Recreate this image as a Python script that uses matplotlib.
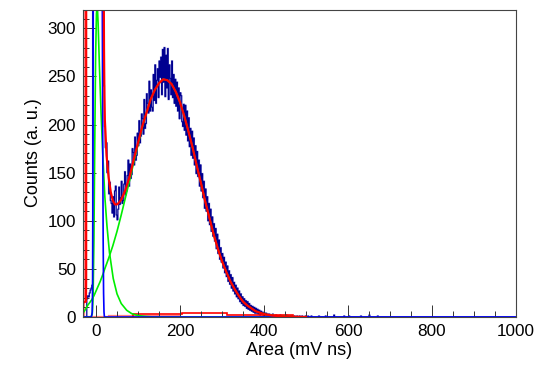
import numpy as np
import matplotlib
matplotlib.use('Agg')
import matplotlib.pyplot as plt
from matplotlib.ticker import MultipleLocator

plt.rcParams['font.family'] = ['Liberation Sans', 'DejaVu Sans']

# measured spectrum, 2 mV ns bins starting at -32
bin_start = -32
bin_width = 2
hist_counts = [
    # -31 .. 19
    0, 0, 0, 0, 0, 19, 22, 21, 25, 28, 30, 33, 900, 2500, 4000, 5000,
    5200, 5000, 4200, 3300, 2400, 1500, 900, 500, 320, 240,
    # 21 .. 99
    198, 176, 181, 150, 162, 128, 140, 121, 118, 108, 125, 104, 131, 136, 106, 101,
    112, 135, 117, 124, 141, 118, 121, 138, 151, 127, 131, 147, 163, 136, 159, 144,
    148, 175, 171, 158, 187, 163, 168, 191,
    # 101 .. 179
    178, 204, 181, 188, 211, 206, 190, 226, 196, 201, 232, 222, 212, 245, 214, 236,
    218, 214, 252, 225, 262, 222, 246, 258, 228, 266, 249, 270, 231, 278, 244, 280,
    229, 272, 238, 279, 226, 262, 248, 231,
    # 181 .. 259
    266, 228, 252, 222, 247, 219, 244, 214, 238, 206, 233, 230, 203, 198, 221, 194,
    220, 189, 214, 183, 207, 177, 196, 168, 193, 165, 186, 158, 178, 149, 172, 146,
    163, 136, 158, 131, 149, 124, 141, 113,
    # 261 .. 339
    133, 110, 125, 100, 118, 96, 112, 89, 104, 84, 97, 79, 92, 71, 86, 66,
    80, 60, 72, 57, 66, 51, 62, 46, 57, 42, 53, 37, 48, 34, 44, 30,
    41, 27, 36, 24, 33, 21, 30, 19,
    # 341 .. 419
    27, 16, 24, 14, 21, 12, 19, 11, 17, 9, 16, 8, 14, 7, 12, 6,
    11, 5, 10, 4, 9, 4, 8, 3, 7, 2, 6, 3, 5, 1, 4, 2,
    4, 1, 3, 1, 3, 0, 2, 1,
    # 421 .. 519
    3, 0, 1, 0, 2, 0, 1, 0, 0, 2, 0, 1, 0, 1, 0, 0,
    2, 0, 1, 0, 0, 1, 0, 1, 0, 0, 1, 0, 0, 1, 0, 0,
    1, 0, 0, 1, 0, 0, 0, 1, 0, 0, 1, 0, 0, 0, 1, 0,
    0, 0,
]
tail_x = [530, 546, 566, 590, 602, 630, 650, 670]
tail_n = [1, 1, 2, 1, 1, 1, 2, 1]

# fit components
sig_x = [-31, -25, -20, -10, -5, 0, 10, 17, 20, 30, 40, 50, 60, 70, 80, 90, 100, 110,
         120, 130, 140, 150, 160, 170, 180, 190, 200, 210, 220, 230, 240, 250, 260,
         270, 280, 290, 300, 310, 320, 330, 340, 350, 360, 370, 380, 390, 400, 420,
         450, 500]
sig_y = [4, 8, 12, 18, 22, 27, 37, 45, 49, 61, 74, 89, 106, 124, 142, 161, 179, 197,
         212, 226, 236, 243, 247, 246, 242, 234, 223, 209, 193, 176, 157, 139, 120,
         103, 86, 71, 58, 47, 37, 29, 22, 16, 12, 9, 6, 4.5, 3, 1.5, 0.4, 0]

exp_x = [-31, -12, -9, -7, -5, -3, -1, 1, 3, 5, 8, 12, 16, 21, 26, 32, 41, 50, 60, 73,
         85, 100, 120, 140, 500]
exp_y = [0, 0, 3, 20, 80, 180, 270, 315, 325, 305, 262, 212, 170, 125, 95, 67, 40, 24,
         14, 7, 3.5, 1.5, 0.5, 0, 0]

ped_x = [-31, -11, -9, -8, -7, -6, 14, 15, 16, 17, 18, 19, 20, 1000]
ped_y = [0, 0, 5, 40, 200, 500, 500, 320, 180, 80, 25, 5, 0, 0]

fit_x = [-31, -24, -23.5, -23, 17.5, 18, 18.5, 19, 20, 21, 25, 30, 35, 40, 45, 50, 55,
         60, 70, 80, 90, 100, 110, 120, 130, 140, 150, 160, 170, 180, 190, 200, 210,
         220, 230, 240, 250, 260, 270, 280, 290, 300, 310, 320, 330, 340, 350, 360,
         370, 380, 390, 400, 420, 450, 480, 500]
fit_y = [15, 16, 40, 2000, 2000, 600, 330, 280, 230, 205, 168, 145, 130, 121, 117, 117,
         119, 122, 132, 146, 164, 181, 198, 212, 226, 236, 243, 247, 246, 242, 234, 223,
         209, 193, 176, 157, 139, 120, 103, 86, 71, 58, 47, 37, 29, 22, 16, 12, 9, 6,
         4.5, 3, 1.5, 0.4, 0.2, 0]

# small background histograms along the bottom
bkg_edges = [88, 204, 311, 470]
bkg_counts = [2.8, 4.2, 2.5]
pink_edges = [-31, -29, 30, 200]
pink_counts = [2000, 0, 1.5]

edges_all = bin_start + bin_width * np.arange(int((1004 - bin_start) / bin_width) + 1)
counts_all = np.zeros(len(edges_all) - 1)
counts_all[:len(hist_counts)] = hist_counts
for x, n in zip(tail_x, tail_n):
    counts_all[int((x - bin_start) // bin_width)] = n

fig = plt.figure(figsize=(5.45, 3.70), dpi=100)
ax = fig.add_axes([83 / 545, 53 / 370, 433 / 545, 307 / 370])

ax.stairs(pink_counts, pink_edges, color='#ff8080', lw=1.6)
ax.stairs(counts_all, edges_all, color='#9090dd', lw=1.1)
ax.stairs(counts_all, edges_all, color='#000090', lw=0.7)
ax.plot(exp_x, exp_y, color='#00ee00', lw=1.2)
ax.plot(sig_x, sig_y, color='#00ee00', lw=1.2)
ax.plot(ped_x, ped_y, color='#0000ff', lw=1.2)
ax.stairs(bkg_counts, bkg_edges, color='#ff0000', lw=1.2)
ax.plot(fit_x, fit_y, color='#ff0000', lw=1.6)

ax.set_xlim(-31, 1000)
ax.set_ylim(0, 319)
ax.xaxis.set_major_locator(MultipleLocator(200))
ax.xaxis.set_minor_locator(MultipleLocator(50))
ax.yaxis.set_major_locator(MultipleLocator(50))
ax.yaxis.set_minor_locator(MultipleLocator(10))
ax.tick_params(which='both', direction='in', top=False, right=False,
               labelsize=12.3, width=0.7, color='#333333')
ax.tick_params(which='major', length=9, pad=5)
ax.tick_params(which='minor', length=4.5)
for s in ax.spines.values():
    s.set_color('#444444')
    s.set_linewidth(0.8)

ax.set_xlabel('Area (mV ns)', fontsize=13)
ax.set_ylabel('Counts (a. u.)', fontsize=13)
ax.xaxis.set_label_coords(0.5, -0.08)
ax.yaxis.set_label_coords(-0.095, 0.535)

fig.savefig('out.png', dpi=100)
